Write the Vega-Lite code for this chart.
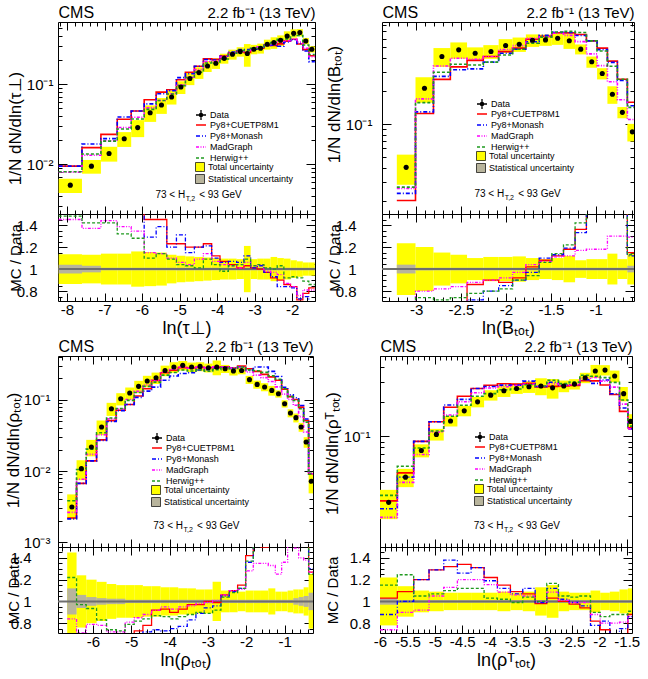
{
"$schema": "https://vega.github.io/schema/vega-lite/v6.json",
"padding": {"left": 3, "top": 4, "right": 4, "bottom": 2},
"config": {
  "font": "Liberation Sans",
  "view": {"stroke": "black", "strokeWidth": 1},
  "axis": {"grid": false, "domain": false, "tickColor": "black", "tickWidth": 1, "labelColor": "black", "titleColor": "black", "labelFontSize": 15, "titleFontSize": 17, "titleFontWeight": "normal", "labelFlush": false, "labelOverlap": false, "zindex": 1},
  "legend": {"labelFont": "Liberation Sans", "labelFontSize": 9, "labelColor": "black", "labelOffset": 3, "rowPadding": 0, "padding": 0, "symbolSize": 100, "orient": "none"}
},
"datasets": {
"m1": [
{"lo":-8.222,"hi":-7.601,"c":-7.912,"d":0.0055,"dlo":0.00439,"dhi":0.00661,"P":0.0095,"M":0.0095,"G":0.008,"H":0.0081},
{"lo":-7.601,"hi":-7.096,"c":-7.349,"d":0.0095,"dlo":0.00765,"dhi":0.01135,"P":0.0162,"M":0.018,"G":0.013,"H":0.0135},
{"lo":-7.096,"hi":-6.661,"c":-6.879,"d":0.0137,"dlo":0.01082,"dhi":0.01658,"P":0.0237,"M":0.021,"G":0.0197,"H":0.0195},
{"lo":-6.661,"hi":-6.289,"c":-6.475,"d":0.0209,"dlo":0.01651,"dhi":0.02529,"P":0.0366,"M":0.0391,"G":0.0289,"H":0.0276},
{"lo":-6.289,"hi":-5.943,"c":-6.116,"d":0.0288,"dlo":0.02189,"dhi":0.03571,"P":0.0464,"M":0.0464,"G":0.0387,"H":0.0369},
{"lo":-5.943,"hi":-5.624,"c":-5.784,"d":0.0442,"dlo":0.03392,"dhi":0.05448,"P":0.0641,"M":0.057,"G":0.0508,"H":0.0486},
{"lo":-5.624,"hi":-5.34,"c":-5.482,"d":0.0551,"dlo":0.0427,"dhi":0.0675,"P":0.0799,"M":0.0763,"G":0.0628,"H":0.0628},
{"lo":-5.34,"hi":-5.083,"c":-5.212,"d":0.0694,"dlo":0.05587,"dhi":0.08293,"P":0.0854,"M":0.0833,"G":0.0763,"H":0.0756},
{"lo":-5.083,"hi":-4.844,"c":-4.964,"d":0.0926,"dlo":0.07593,"dhi":0.10927,"P":0.1139,"M":0.1213,"G":0.0982,"H":0.0963},
{"lo":-4.844,"hi":-4.605,"c":-4.725,"d":0.118,"dlo":0.09765,"dhi":0.13836,"P":0.1416,"M":0.1357,"G":0.1227,"H":0.1215},
{"lo":-4.605,"hi":-4.365,"c":-4.485,"d":0.14,"dlo":0.1169,"dhi":0.1631,"P":0.168,"M":0.168,"G":0.1526,"H":0.1414},
{"lo":-4.365,"hi":-4.144,"c":-4.255,"d":0.169,"dlo":0.14238,"dhi":0.19562,"P":0.2079,"M":0.2045,"G":0.1927,"H":0.1842},
{"lo":-4.144,"hi":-3.922,"c":-4.033,"d":0.183,"dlo":0.15555,"dhi":0.21045,"P":0.205,"M":0.2013,"G":0.1958,"H":0.1903},
{"lo":-3.922,"hi":-3.7,"c":-3.811,"d":0.211,"dlo":0.18093,"dhi":0.24107,"P":0.2258,"M":0.2237,"G":0.2194,"H":0.2068},
{"lo":-3.7,"hi":-3.479,"c":-3.59,"d":0.237,"dlo":0.20323,"dhi":0.27077,"P":0.2465,"M":0.2536,"G":0.2441,"H":0.2441},
{"lo":-3.479,"hi":-3.284,"c":-3.382,"d":0.256,"dlo":0.22144,"dhi":0.29056,"P":0.2586,"M":0.2714,"G":0.2586,"H":0.2662},
{"lo":-3.284,"hi":-3.106,"c":-3.195,"d":0.242,"dlo":0.16577,"dhi":0.31823,"P":0.2493,"M":0.271,"G":0.2565,"H":0.2638},
{"lo":-3.106,"hi":-2.929,"c":-3.018,"d":0.274,"dlo":0.23701,"dhi":0.31099,"P":0.2767,"M":0.2767,"G":0.2822,"H":0.2822},
{"lo":-2.929,"hi":-2.752,"c":-2.841,"d":0.282,"dlo":0.24182,"dhi":0.32219,"P":0.282,"M":0.2905,"G":0.2933,"H":0.2933},
{"lo":-2.752,"hi":-2.574,"c":-2.663,"d":0.316,"dlo":0.27097,"dhi":0.36103,"P":0.3065,"M":0.3065,"G":0.3097,"H":0.3192},
{"lo":-2.574,"hi":-2.397,"c":-2.486,"d":0.332,"dlo":0.27722,"dhi":0.38678,"P":0.3054,"M":0.3088,"G":0.322,"H":0.332},
{"lo":-2.397,"hi":-2.22,"c":-2.309,"d":0.355,"dlo":0.30175,"dhi":0.40825,"P":0.3195,"M":0.2982,"G":0.3373,"H":0.3657},
{"lo":-2.22,"hi":-2.043,"c":-2.132,"d":0.402,"dlo":0.34472,"dhi":0.45929,"P":0.3457,"M":0.3377,"G":0.3497,"H":0.3698},
{"lo":-2.043,"hi":-1.874,"c":-1.959,"d":0.434,"dlo":0.38192,"dhi":0.48608,"P":0.3646,"M":0.3602,"G":0.3646,"H":0.4036},
{"lo":-1.874,"hi":-1.714,"c":-1.794,"d":0.443,"dlo":0.39649,"dhi":0.48952,"P":0.319,"M":0.3234,"G":0.3367,"H":0.4076},
{"lo":-1.714,"hi":-1.555,"c":-1.635,"d":0.348,"dlo":0.31668,"dhi":0.37932,"P":0.2714,"M":0.261,"G":0.2819,"H":0.3097},
{"lo":-1.555,"hi":-1.395,"c":-1.475,"d":0.274,"dlo":0.24934,"dhi":0.29866,"P":0.2274,"M":0.1918,"G":0.2219,"H":0.2356},
{"lo":-1.395,"P":0.2274,"M":0.1918,"G":0.2219,"H":0.2356}
],
"r1": [
{"lo":-8.222,"hi":-7.601,"tlo":0.865,"thi":1.135,"slo":0.96,"shi":1.04,"P":1.73,"M":1.73,"G":1.45,"H":1.48},
{"lo":-7.601,"hi":-7.096,"tlo":0.87,"thi":1.13,"slo":0.97,"shi":1.03,"P":1.7,"M":1.9,"G":1.37,"H":1.42},
{"lo":-7.096,"hi":-6.661,"tlo":0.86,"thi":1.14,"slo":0.988,"shi":1.012,"P":1.73,"M":1.53,"G":1.44,"H":1.42},
{"lo":-6.661,"hi":-6.289,"tlo":0.86,"thi":1.14,"slo":0.988,"shi":1.012,"P":1.75,"M":1.87,"G":1.385,"H":1.32},
{"lo":-6.289,"hi":-5.943,"tlo":0.84,"thi":1.16,"slo":0.988,"shi":1.012,"P":1.61,"M":1.61,"G":1.345,"H":1.28},
{"lo":-5.943,"hi":-5.624,"tlo":0.845,"thi":1.155,"slo":0.988,"shi":1.012,"P":1.45,"M":1.29,"G":1.15,"H":1.1},
{"lo":-5.624,"hi":-5.34,"tlo":0.85,"thi":1.15,"slo":0.988,"shi":1.012,"P":1.45,"M":1.385,"G":1.14,"H":1.14},
{"lo":-5.34,"hi":-5.083,"tlo":0.87,"thi":1.13,"slo":0.988,"shi":1.012,"P":1.23,"M":1.2,"G":1.1,"H":1.09},
{"lo":-5.083,"hi":-4.844,"tlo":0.88,"thi":1.12,"slo":0.988,"shi":1.012,"P":1.23,"M":1.31,"G":1.06,"H":1.04},
{"lo":-4.844,"hi":-4.605,"tlo":0.885,"thi":1.115,"slo":0.988,"shi":1.012,"P":1.2,"M":1.15,"G":1.04,"H":1.03},
{"lo":-4.605,"hi":-4.365,"tlo":0.89,"thi":1.11,"slo":0.988,"shi":1.012,"P":1.2,"M":1.2,"G":1.09,"H":1.01},
{"lo":-4.365,"hi":-4.144,"tlo":0.895,"thi":1.105,"slo":0.988,"shi":1.012,"P":1.23,"M":1.21,"G":1.14,"H":1.09},
{"lo":-4.144,"hi":-3.922,"tlo":0.9,"thi":1.1,"slo":0.988,"shi":1.012,"P":1.12,"M":1.1,"G":1.07,"H":1.04},
{"lo":-3.922,"hi":-3.7,"tlo":0.905,"thi":1.095,"slo":0.988,"shi":1.012,"P":1.07,"M":1.06,"G":1.04,"H":0.98},
{"lo":-3.7,"hi":-3.479,"tlo":0.905,"thi":1.095,"slo":0.988,"shi":1.012,"P":1.04,"M":1.07,"G":1.03,"H":1.03},
{"lo":-3.479,"hi":-3.284,"tlo":0.91,"thi":1.09,"slo":0.988,"shi":1.012,"P":1.01,"M":1.06,"G":1.01,"H":1.04},
{"lo":-3.284,"hi":-3.106,"tlo":0.79,"thi":1.21,"slo":0.988,"shi":1.012,"P":1.03,"M":1.12,"G":1.06,"H":1.09},
{"lo":-3.106,"hi":-2.929,"tlo":0.91,"thi":1.09,"slo":0.988,"shi":1.012,"P":1.01,"M":1.01,"G":1.03,"H":1.03},
{"lo":-2.929,"hi":-2.752,"tlo":0.905,"thi":1.095,"slo":0.988,"shi":1.012,"P":1.0,"M":1.03,"G":1.04,"H":1.04},
{"lo":-2.752,"hi":-2.574,"tlo":0.905,"thi":1.095,"slo":0.988,"shi":1.012,"P":0.97,"M":0.97,"G":0.98,"H":1.01},
{"lo":-2.574,"hi":-2.397,"tlo":0.89,"thi":1.11,"slo":0.988,"shi":1.012,"P":0.92,"M":0.93,"G":0.97,"H":1.0},
{"lo":-2.397,"hi":-2.22,"tlo":0.9,"thi":1.1,"slo":0.988,"shi":1.012,"P":0.9,"M":0.84,"G":0.95,"H":1.03},
{"lo":-2.22,"hi":-2.043,"tlo":0.905,"thi":1.095,"slo":0.988,"shi":1.012,"P":0.86,"M":0.84,"G":0.87,"H":0.92},
{"lo":-2.043,"hi":-1.874,"tlo":0.92,"thi":1.08,"slo":0.988,"shi":1.012,"P":0.84,"M":0.83,"G":0.84,"H":0.93},
{"lo":-1.874,"hi":-1.714,"tlo":0.93,"thi":1.07,"slo":0.988,"shi":1.012,"P":0.72,"M":0.73,"G":0.76,"H":0.92},
{"lo":-1.714,"hi":-1.555,"tlo":0.94,"thi":1.06,"slo":0.988,"shi":1.012,"P":0.78,"M":0.75,"G":0.81,"H":0.89},
{"lo":-1.555,"hi":-1.395,"tlo":0.94,"thi":1.06,"slo":0.988,"shi":1.012,"P":0.83,"M":0.7,"G":0.81,"H":0.86},
{"lo":-1.395,"P":0.83,"M":0.7,"G":0.81,"H":0.86}
],
"m2": [
{"lo":-3.215,"hi":-3.007,"c":-3.111,"d":0.0404,"dlo":0.02806,"dhi":0.05274,"P":0.0202,"M":0.0234,"G":0.0259,"H":0.0267},
{"lo":-3.007,"hi":-2.807,"c":-2.907,"d":0.212,"dlo":0.15688,"dhi":0.26712,"P":0.1251,"M":0.1293,"G":0.1696,"H":0.1569},
{"lo":-2.807,"hi":-2.619,"c":-2.713,"d":0.412,"dlo":0.33166,"dhi":0.49234,"P":0.2554,"M":0.2719,"G":0.3378,"H":0.2966},
{"lo":-2.619,"hi":-2.433,"c":-2.526,"d":0.474,"dlo":0.39389,"dhi":0.55411,"P":0.3318,"M":0.3128,"G":0.3982,"H":0.3508},
{"lo":-2.433,"hi":-2.252,"c":-2.3425,"d":0.442,"dlo":0.38454,"dhi":0.49946,"P":0.3801,"M":0.3182,"G":0.389,"H":0.3448},
{"lo":-2.252,"hi":-2.081,"c":-2.1665,"d":0.458,"dlo":0.39251,"dhi":0.52349,"P":0.4122,"M":0.3664,"G":0.4122,"H":0.3664},
{"lo":-2.081,"hi":-1.926,"c":-2.0035,"d":0.519,"dlo":0.44478,"dhi":0.59322,"P":0.4567,"M":0.4412,"G":0.4775,"H":0.4256},
{"lo":-1.926,"hi":-1.778,"c":-1.852,"d":0.534,"dlo":0.45417,"dhi":0.61383,"P":0.4913,"M":0.4806,"G":0.518,"H":0.4806},
{"lo":-1.778,"hi":-1.63,"c":-1.704,"d":0.58,"dlo":0.5046,"dhi":0.6554,"P":0.5916,"M":0.5626,"G":0.6032,"H":0.5452},
{"lo":-1.63,"hi":-1.489,"c":-1.5595,"d":0.584,"dlo":0.51567,"dhi":0.65233,"P":0.6307,"M":0.6424,"G":0.6249,"H":0.619},
{"lo":-1.489,"hi":-1.359,"c":-1.424,"d":0.605,"dlo":0.52635,"dhi":0.68365,"P":0.6776,"M":0.6837,"G":0.6716,"H":0.6897},
{"lo":-1.359,"hi":-1.23,"c":-1.2945,"d":0.573,"dlo":0.48361,"dhi":0.66239,"P":0.6761,"M":0.6819,"G":0.6418,"H":0.6991},
{"lo":-1.23,"hi":-1.104,"c":-1.167,"d":0.481,"dlo":0.43098,"dhi":0.53102,"P":0.6542,"M":0.6397,"G":0.5628,"H":0.683},
{"lo":-1.104,"hi":-0.985,"c":-1.0445,"d":0.369,"dlo":0.32583,"dhi":0.41217,"P":0.572,"M":0.572,"G":0.4354,"H":0.572},
{"lo":-0.985,"hi":-0.87,"c":-0.9275,"d":0.289,"dlo":0.25519,"dhi":0.32281,"P":0.4913,"M":0.4769,"G":0.341,"H":0.4624},
{"lo":-0.87,"hi":-0.759,"c":-0.8145,"d":0.187,"dlo":0.15297,"dhi":0.22103,"P":0.374,"M":0.3647,"G":0.2431,"H":0.3366},
{"lo":-0.759,"hi":-0.648,"c":-0.7035,"d":0.128,"dlo":0.11302,"dhi":0.14298,"P":0.256,"M":0.2496,"G":0.1664,"H":0.256},
{"lo":-0.648,"hi":-0.537,"c":-0.5925,"d":0.085,"dlo":0.06953,"dhi":0.10047,"P":0.158,"M":0.147,"G":0.11,"H":0.142},
{"lo":-0.537,"P":0.158,"M":0.147,"G":0.11,"H":0.142}
],
"r2": [
{"lo":-3.215,"hi":-3.007,"tlo":0.765,"thi":1.235,"slo":0.96,"shi":1.04,"P":0.5,"M":0.58,"G":0.64,"H":0.66},
{"lo":-3.007,"hi":-2.807,"tlo":0.8,"thi":1.2,"slo":0.988,"shi":1.012,"P":0.59,"M":0.61,"G":0.8,"H":0.74},
{"lo":-2.807,"hi":-2.619,"tlo":0.85,"thi":1.15,"slo":0.988,"shi":1.012,"P":0.62,"M":0.66,"G":0.82,"H":0.72},
{"lo":-2.619,"hi":-2.433,"tlo":0.87,"thi":1.13,"slo":0.988,"shi":1.012,"P":0.7,"M":0.66,"G":0.84,"H":0.74},
{"lo":-2.433,"hi":-2.252,"tlo":0.9,"thi":1.1,"slo":0.988,"shi":1.012,"P":0.86,"M":0.72,"G":0.88,"H":0.78},
{"lo":-2.252,"hi":-2.081,"tlo":0.89,"thi":1.11,"slo":0.988,"shi":1.012,"P":0.9,"M":0.8,"G":0.9,"H":0.8},
{"lo":-2.081,"hi":-1.926,"tlo":0.89,"thi":1.11,"slo":0.988,"shi":1.012,"P":0.88,"M":0.85,"G":0.92,"H":0.82},
{"lo":-1.926,"hi":-1.778,"tlo":0.885,"thi":1.115,"slo":0.988,"shi":1.012,"P":0.92,"M":0.9,"G":0.97,"H":0.9},
{"lo":-1.778,"hi":-1.63,"tlo":0.9,"thi":1.1,"slo":0.988,"shi":1.012,"P":1.02,"M":0.97,"G":1.04,"H":0.94},
{"lo":-1.63,"hi":-1.489,"tlo":0.91,"thi":1.09,"slo":0.988,"shi":1.012,"P":1.08,"M":1.1,"G":1.07,"H":1.06},
{"lo":-1.489,"hi":-1.359,"tlo":0.9,"thi":1.1,"slo":0.988,"shi":1.012,"P":1.12,"M":1.13,"G":1.11,"H":1.14},
{"lo":-1.359,"hi":-1.23,"tlo":0.88,"thi":1.12,"slo":0.988,"shi":1.012,"P":1.18,"M":1.19,"G":1.12,"H":1.22},
{"lo":-1.23,"hi":-1.104,"tlo":0.92,"thi":1.08,"slo":0.988,"shi":1.012,"P":1.36,"M":1.33,"G":1.17,"H":1.42},
{"lo":-1.104,"hi":-0.985,"tlo":0.91,"thi":1.09,"slo":0.988,"shi":1.012,"P":1.55,"M":1.55,"G":1.18,"H":1.55},
{"lo":-0.985,"hi":-0.87,"tlo":0.91,"thi":1.09,"slo":0.988,"shi":1.012,"P":1.7,"M":1.65,"G":1.18,"H":1.6},
{"lo":-0.87,"hi":-0.759,"tlo":0.86,"thi":1.14,"slo":0.988,"shi":1.012,"P":2.0,"M":1.95,"G":1.3,"H":1.8},
{"lo":-0.759,"hi":-0.648,"tlo":0.91,"thi":1.09,"slo":0.988,"shi":1.012,"P":2.0,"M":1.95,"G":1.3,"H":2.0},
{"lo":-0.648,"hi":-0.537,"tlo":0.86,"thi":1.14,"slo":0.97,"shi":1.03,"P":1.15,"M":1.12,"G":1.29,"H":1.13},
{"lo":-0.537,"P":1.15,"M":1.12,"G":1.29,"H":1.13}
],
"m3": [
{"lo":-6.67,"hi":-6.426,"c":-6.548,"d":0.00313,"dlo":0.0021,"dhi":0.0047,"P":0.00219,"M":0.00213,"G":0.00263,"H":0.00382},
{"lo":-6.426,"hi":-6.174,"c":-6.3,"d":0.0108,"dlo":0.00743,"dhi":0.01417,"P":0.0067,"M":0.0067,"G":0.00767,"H":0.01048},
{"lo":-6.174,"hi":-5.904,"c":-6.039,"d":0.0217,"dlo":0.01606,"dhi":0.02734,"P":0.01389,"M":0.01389,"G":0.01714,"H":0.02029},
{"lo":-5.904,"hi":-5.643,"c":-5.774,"d":0.0414,"dlo":0.03171,"dhi":0.05109,"P":0.02732,"M":0.02691,"G":0.03229,"H":0.03436},
{"lo":-5.643,"hi":-5.391,"c":-5.517,"d":0.0748,"dlo":0.05924,"dhi":0.09036,"P":0.05086,"M":0.04937,"G":0.05386,"H":0.05535},
{"lo":-5.391,"hi":-5.157,"c":-5.274,"d":0.1033,"dlo":0.08316,"dhi":0.12344,"P":0.07128,"M":0.07024,"G":0.07438,"H":0.07541},
{"lo":-5.157,"hi":-4.922,"c":-5.04,"d":0.124,"dlo":0.09982,"dhi":0.14818,"P":0.08556,"M":0.08556,"G":0.10044,"H":0.09796},
{"lo":-4.922,"hi":-4.696,"c":-4.809,"d":0.154,"dlo":0.12397,"dhi":0.18403,"P":0.11242,"M":0.1078,"G":0.1309,"H":0.12628},
{"lo":-4.696,"hi":-4.47,"c":-4.583,"d":0.183,"dlo":0.14969,"dhi":0.21631,"P":0.14274,"M":0.13176,"G":0.16104,"H":0.15372},
{"lo":-4.47,"hi":-4.235,"c":-4.353,"d":0.203,"dlo":0.16605,"dhi":0.23995,"P":0.18676,"M":0.15022,"G":0.18676,"H":0.17661},
{"lo":-4.235,"hi":-4.0,"c":-4.118,"d":0.257,"dlo":0.21357,"dhi":0.30043,"P":0.23901,"M":0.18761,"G":0.24415,"H":0.22102},
{"lo":-4.0,"hi":-3.774,"c":-3.887,"d":0.287,"dlo":0.2385,"dhi":0.3355,"P":0.2583,"M":0.21525,"G":0.26691,"H":0.24108},
{"lo":-3.774,"hi":-3.539,"c":-3.657,"d":0.303,"dlo":0.25573,"dhi":0.35027,"P":0.28179,"M":0.23331,"G":0.28785,"H":0.26058},
{"lo":-3.539,"hi":-3.313,"c":-3.426,"d":0.287,"dlo":0.24223,"dhi":0.33177,"P":0.27839,"M":0.23821,"G":0.27552,"H":0.25256},
{"lo":-3.313,"hi":-3.096,"c":-3.205,"d":0.293,"dlo":0.2511,"dhi":0.3349,"P":0.28421,"M":0.26077,"G":0.28714,"H":0.2637},
{"lo":-3.096,"hi":-2.878,"c":-2.987,"d":0.281,"dlo":0.24082,"dhi":0.32118,"P":0.281,"M":0.26414,"G":0.27819,"H":0.25009},
{"lo":-2.878,"hi":-2.661,"c":-2.77,"d":0.287,"dlo":0.21984,"dhi":0.35416,"P":0.28413,"M":0.27552,"G":0.28987,"H":0.26404},
{"lo":-2.661,"hi":-2.443,"c":-2.552,"d":0.272,"dlo":0.23664,"dhi":0.30736,"P":0.28832,"M":0.2856,"G":0.28832,"H":0.28288},
{"lo":-2.443,"hi":-2.226,"c":-2.335,"d":0.252,"dlo":0.21924,"dhi":0.28476,"P":0.2772,"M":0.27468,"G":0.2772,"H":0.27216},
{"lo":-2.226,"hi":-2.017,"c":-2.122,"d":0.257,"dlo":0.22693,"dhi":0.28707,"P":0.29555,"M":0.28784,"G":0.28527,"H":0.28784},
{"lo":-2.017,"hi":-1.817,"c":-1.917,"d":0.191,"dlo":0.16617,"dhi":0.21583,"P":0.27122,"M":0.25976,"G":0.24448,"H":0.26167},
{"lo":-1.817,"hi":-1.617,"c":-1.717,"d":0.164,"dlo":0.14268,"dhi":0.18532,"P":0.2493,"M":0.287,"G":0.2214,"H":0.2542},
{"lo":-1.617,"hi":-1.426,"c":-1.522,"d":0.151,"dlo":0.13137,"dhi":0.17063,"P":0.2265,"M":0.2869,"G":0.20385,"H":0.2416},
{"lo":-1.426,"hi":-1.243,"c":-1.335,"d":0.135,"dlo":0.11394,"dhi":0.15606,"P":0.20925,"M":0.24975,"G":0.17955,"H":0.216},
{"lo":-1.243,"hi":-1.078,"c":-1.161,"d":0.121,"dlo":0.10684,"dhi":0.13516,"P":0.18755,"M":0.21175,"G":0.15125,"H":0.1936},
{"lo":-1.078,"hi":-0.922,"c":-1.0,"d":0.0879,"dlo":0.07762,"dhi":0.09818,"P":0.14064,"M":0.14943,"G":0.11954,"H":0.1424},
{"lo":-0.922,"hi":-0.774,"c":-0.848,"d":0.065,"dlo":0.05655,"dhi":0.07345,"P":0.1105,"M":0.117,"G":0.10075,"H":0.1105},
{"lo":-0.774,"hi":-0.635,"c":-0.705,"d":0.056,"dlo":0.04799,"dhi":0.06401,"P":0.1008,"M":0.1064,"G":0.08344,"H":0.098},
{"lo":-0.635,"hi":-0.504,"c":-0.57,"d":0.0414,"dlo":0.03548,"dhi":0.04732,"P":0.07866,"M":0.0828,"G":0.05796,"H":0.07452},
{"lo":-0.504,"hi":-0.374,"c":-0.439,"d":0.0255,"dlo":0.02119,"dhi":0.02981,"P":0.051,"M":0.05355,"G":0.03519,"H":0.04845},
{"lo":-0.374,"hi":-0.235,"c":-0.305,"d":0.0072,"dlo":0.00486,"dhi":0.00954,"P":0.00914,"M":0.00936,"G":0.00914,"H":0.009},
{"lo":-0.235,"P":0.00914,"M":0.00936,"G":0.00914,"H":0.009}
],
"r3": [
{"lo":-6.67,"hi":-6.426,"tlo":0.55,"thi":1.45,"slo":0.88,"shi":1.12,"P":0.7,"M":0.68,"G":0.84,"H":1.22},
{"lo":-6.426,"hi":-6.174,"tlo":0.76,"thi":1.24,"slo":0.94,"shi":1.06,"P":0.62,"M":0.62,"G":0.71,"H":0.97},
{"lo":-6.174,"hi":-5.904,"tlo":0.8,"thi":1.2,"slo":0.96,"shi":1.04,"P":0.64,"M":0.64,"G":0.79,"H":0.935},
{"lo":-5.904,"hi":-5.643,"tlo":0.82,"thi":1.18,"slo":0.97,"shi":1.03,"P":0.66,"M":0.65,"G":0.78,"H":0.83},
{"lo":-5.643,"hi":-5.391,"tlo":0.84,"thi":1.16,"slo":0.975,"shi":1.025,"P":0.68,"M":0.66,"G":0.72,"H":0.74},
{"lo":-5.391,"hi":-5.157,"tlo":0.85,"thi":1.15,"slo":0.975,"shi":1.025,"P":0.69,"M":0.68,"G":0.72,"H":0.73},
{"lo":-5.157,"hi":-4.922,"tlo":0.85,"thi":1.15,"slo":0.985,"shi":1.015,"P":0.69,"M":0.69,"G":0.81,"H":0.79},
{"lo":-4.922,"hi":-4.696,"tlo":0.85,"thi":1.15,"slo":0.985,"shi":1.015,"P":0.73,"M":0.7,"G":0.85,"H":0.82},
{"lo":-4.696,"hi":-4.47,"tlo":0.86,"thi":1.14,"slo":0.985,"shi":1.015,"P":0.78,"M":0.72,"G":0.88,"H":0.84},
{"lo":-4.47,"hi":-4.235,"tlo":0.86,"thi":1.14,"slo":0.985,"shi":1.015,"P":0.92,"M":0.74,"G":0.92,"H":0.87},
{"lo":-4.235,"hi":-4.0,"tlo":0.87,"thi":1.13,"slo":0.985,"shi":1.015,"P":0.93,"M":0.73,"G":0.95,"H":0.86},
{"lo":-4.0,"hi":-3.774,"tlo":0.87,"thi":1.13,"slo":0.985,"shi":1.015,"P":0.9,"M":0.75,"G":0.93,"H":0.84},
{"lo":-3.774,"hi":-3.539,"tlo":0.88,"thi":1.12,"slo":0.985,"shi":1.015,"P":0.93,"M":0.77,"G":0.95,"H":0.86},
{"lo":-3.539,"hi":-3.313,"tlo":0.88,"thi":1.12,"slo":0.985,"shi":1.015,"P":0.97,"M":0.83,"G":0.96,"H":0.88},
{"lo":-3.313,"hi":-3.096,"tlo":0.89,"thi":1.11,"slo":0.985,"shi":1.015,"P":0.97,"M":0.89,"G":0.98,"H":0.9},
{"lo":-3.096,"hi":-2.878,"tlo":0.89,"thi":1.11,"slo":0.985,"shi":1.015,"P":1.0,"M":0.94,"G":0.99,"H":0.89},
{"lo":-2.878,"hi":-2.661,"tlo":0.82,"thi":1.18,"slo":0.985,"shi":1.015,"P":0.99,"M":0.96,"G":1.01,"H":0.92},
{"lo":-2.661,"hi":-2.443,"tlo":0.9,"thi":1.1,"slo":0.985,"shi":1.015,"P":1.06,"M":1.05,"G":1.06,"H":1.04},
{"lo":-2.443,"hi":-2.226,"tlo":0.9,"thi":1.1,"slo":0.985,"shi":1.015,"P":1.1,"M":1.09,"G":1.1,"H":1.08},
{"lo":-2.226,"hi":-2.017,"tlo":0.91,"thi":1.09,"slo":0.985,"shi":1.015,"P":1.15,"M":1.12,"G":1.11,"H":1.12},
{"lo":-2.017,"hi":-1.817,"tlo":0.9,"thi":1.1,"slo":0.985,"shi":1.015,"P":1.42,"M":1.36,"G":1.28,"H":1.37},
{"lo":-1.817,"hi":-1.617,"tlo":0.9,"thi":1.1,"slo":0.985,"shi":1.015,"P":1.52,"M":1.75,"G":1.35,"H":1.55},
{"lo":-1.617,"hi":-1.426,"tlo":0.9,"thi":1.1,"slo":0.985,"shi":1.015,"P":1.5,"M":1.9,"G":1.35,"H":1.6},
{"lo":-1.426,"hi":-1.243,"tlo":0.88,"thi":1.12,"slo":0.985,"shi":1.015,"P":1.55,"M":1.85,"G":1.33,"H":1.6},
{"lo":-1.243,"hi":-1.078,"tlo":0.91,"thi":1.09,"slo":0.985,"shi":1.015,"P":1.55,"M":1.75,"G":1.25,"H":1.6},
{"lo":-1.078,"hi":-0.922,"tlo":0.91,"thi":1.09,"slo":0.985,"shi":1.015,"P":1.6,"M":1.7,"G":1.36,"H":1.62},
{"lo":-0.922,"hi":-0.774,"tlo":0.9,"thi":1.1,"slo":0.985,"shi":1.015,"P":1.7,"M":1.8,"G":1.55,"H":1.7},
{"lo":-0.774,"hi":-0.635,"tlo":0.89,"thi":1.11,"slo":0.97,"shi":1.03,"P":1.8,"M":1.9,"G":1.49,"H":1.75},
{"lo":-0.635,"hi":-0.504,"tlo":0.89,"thi":1.11,"slo":0.96,"shi":1.04,"P":1.9,"M":2.0,"G":1.4,"H":1.8},
{"lo":-0.504,"hi":-0.374,"tlo":0.87,"thi":1.13,"slo":0.95,"shi":1.05,"P":2.0,"M":2.1,"G":1.38,"H":1.9},
{"lo":-0.374,"hi":-0.235,"tlo":0.75,"thi":1.25,"slo":0.92,"shi":1.08,"P":1.27,"M":1.3,"G":1.27,"H":1.25},
{"lo":-0.235,"P":1.27,"M":1.3,"G":1.27,"H":1.25}
],
"m4": [
{"lo":-6.0,"hi":-5.684,"c":-5.842,"d":0.0265,"dlo":0.01892,"dhi":0.03408,"P":0.0273,"M":0.0233,"G":0.0196,"H":0.0305},
{"lo":-5.684,"hi":-5.386,"c":-5.535,"d":0.044,"dlo":0.03599,"dhi":0.05201,"P":0.048,"M":0.044,"G":0.0396,"H":0.0548},
{"lo":-5.386,"hi":-5.106,"c":-5.246,"d":0.0753,"dlo":0.06551,"dhi":0.08509,"P":0.0904,"M":0.0904,"G":0.0693,"H":0.0791},
{"lo":-5.106,"hi":-4.838,"c":-4.972,"d":0.104,"dlo":0.09183,"dhi":0.11617,"P":0.1342,"M":0.1342,"G":0.1092,"H":0.1113},
{"lo":-4.838,"hi":-4.589,"c":-4.714,"d":0.136,"dlo":0.12186,"dhi":0.15014,"P":0.1795,"M":0.1877,"G":0.1537,"H":0.1496},
{"lo":-4.589,"hi":-4.339,"c":-4.464,"d":0.167,"dlo":0.14963,"dhi":0.18437,"P":0.2238,"M":0.2104,"G":0.2004,"H":0.187},
{"lo":-4.339,"hi":-4.102,"c":-4.221,"d":0.2,"dlo":0.1792,"dhi":0.2208,"P":0.262,"M":0.262,"G":0.24,"H":0.224},
{"lo":-4.102,"hi":-3.859,"c":-3.981,"d":0.229,"dlo":0.20518,"dhi":0.25282,"P":0.2794,"M":0.2725,"G":0.2645,"H":0.2359},
{"lo":-3.859,"hi":-3.622,"c":-3.741,"d":0.25,"dlo":0.22075,"dhi":0.27925,"P":0.2875,"M":0.28,"G":0.2713,"H":0.255},
{"lo":-3.622,"hi":-3.397,"c":-3.51,"d":0.262,"dlo":0.23475,"dhi":0.28925,"P":0.2856,"M":0.2803,"G":0.2777,"H":0.2594},
{"lo":-3.397,"hi":-3.171,"c":-3.284,"d":0.271,"dlo":0.23929,"dhi":0.30271,"P":0.29,"M":0.3035,"G":0.2846,"H":0.2818},
{"lo":-3.171,"hi":-2.959,"c":-3.065,"d":0.275,"dlo":0.22853,"dhi":0.32148,"P":0.2695,"M":0.2723,"G":0.275,"H":0.275},
{"lo":-2.959,"hi":-2.746,"c":-2.853,"d":0.265,"dlo":0.21333,"dhi":0.31668,"P":0.273,"M":0.2968,"G":0.2875,"H":0.3087},
{"lo":-2.746,"hi":-2.551,"c":-2.649,"d":0.275,"dlo":0.24283,"dhi":0.30718,"P":0.275,"M":0.2805,"G":0.2778,"H":0.2888},
{"lo":-2.551,"hi":-2.356,"c":-2.454,"d":0.286,"dlo":0.25626,"dhi":0.31574,"P":0.2789,"M":0.2831,"G":0.2831,"H":0.2974},
{"lo":-2.356,"hi":-2.162,"c":-2.259,"d":0.325,"dlo":0.2912,"dhi":0.3588,"P":0.3055,"M":0.312,"G":0.3218,"H":0.3413},
{"lo":-2.162,"hi":-1.985,"c":-2.074,"d":0.372,"dlo":0.32364,"dhi":0.42036,"P":0.305,"M":0.2902,"G":0.3274,"H":0.3348},
{"lo":-1.985,"hi":-1.809,"c":-1.897,"d":0.379,"dlo":0.33958,"dhi":0.41842,"P":0.2805,"M":0.3108,"G":0.3032,"H":0.3259},
{"lo":-1.809,"hi":-1.633,"c":-1.721,"d":0.336,"dlo":0.29669,"dhi":0.37531,"P":0.2318,"M":0.2352,"G":0.2688,"H":0.2957},
{"lo":-1.633,"hi":-1.481,"c":-1.557,"d":0.236,"dlo":0.20225,"dhi":0.26975,"P":0.1652,"M":0.177,"G":0.1912,"H":0.2077},
{"lo":-1.481,"hi":-1.334,"c":-1.43,"d":0.135,"dlo":0.11394,"dhi":0.15606,"P":0.1188,"M":0.1161,"G":0.1161,"H":0.1229},
{"lo":-1.334,"P":0.1188,"M":0.1161,"G":0.1161,"H":0.1229}
],
"r4": [
{"lo":-6.0,"hi":-5.684,"tlo":0.78,"thi":1.22,"slo":0.97,"shi":1.03,"P":1.03,"M":0.88,"G":0.74,"H":1.15},
{"lo":-5.684,"hi":-5.386,"tlo":0.86,"thi":1.14,"slo":0.988,"shi":1.012,"P":1.09,"M":1.0,"G":0.9,"H":1.245},
{"lo":-5.386,"hi":-5.106,"tlo":0.9,"thi":1.1,"slo":0.988,"shi":1.012,"P":1.2,"M":1.2,"G":0.92,"H":1.05},
{"lo":-5.106,"hi":-4.838,"tlo":0.91,"thi":1.09,"slo":0.988,"shi":1.012,"P":1.29,"M":1.29,"G":1.05,"H":1.07},
{"lo":-4.838,"hi":-4.589,"tlo":0.92,"thi":1.08,"slo":0.988,"shi":1.012,"P":1.32,"M":1.38,"G":1.13,"H":1.1},
{"lo":-4.589,"hi":-4.339,"tlo":0.92,"thi":1.08,"slo":0.988,"shi":1.012,"P":1.34,"M":1.26,"G":1.2,"H":1.12},
{"lo":-4.339,"hi":-4.102,"tlo":0.92,"thi":1.08,"slo":0.988,"shi":1.012,"P":1.31,"M":1.31,"G":1.2,"H":1.12},
{"lo":-4.102,"hi":-3.859,"tlo":0.92,"thi":1.08,"slo":0.988,"shi":1.012,"P":1.22,"M":1.19,"G":1.155,"H":1.03},
{"lo":-3.859,"hi":-3.622,"tlo":0.91,"thi":1.09,"slo":0.988,"shi":1.012,"P":1.15,"M":1.12,"G":1.085,"H":1.02},
{"lo":-3.622,"hi":-3.397,"tlo":0.92,"thi":1.08,"slo":0.988,"shi":1.012,"P":1.09,"M":1.07,"G":1.06,"H":0.99},
{"lo":-3.397,"hi":-3.171,"tlo":0.91,"thi":1.09,"slo":0.988,"shi":1.012,"P":1.07,"M":1.12,"G":1.05,"H":1.04},
{"lo":-3.171,"hi":-2.959,"tlo":0.87,"thi":1.13,"slo":0.988,"shi":1.012,"P":0.98,"M":0.99,"G":1.0,"H":1.0},
{"lo":-2.959,"hi":-2.746,"tlo":0.85,"thi":1.15,"slo":0.988,"shi":1.012,"P":1.03,"M":1.12,"G":1.085,"H":1.165},
{"lo":-2.746,"hi":-2.551,"tlo":0.91,"thi":1.09,"slo":0.988,"shi":1.012,"P":1.0,"M":1.02,"G":1.01,"H":1.05},
{"lo":-2.551,"hi":-2.356,"tlo":0.92,"thi":1.08,"slo":0.988,"shi":1.012,"P":0.975,"M":0.99,"G":0.99,"H":1.04},
{"lo":-2.356,"hi":-2.162,"tlo":0.92,"thi":1.08,"slo":0.988,"shi":1.012,"P":0.94,"M":0.96,"G":0.99,"H":1.05},
{"lo":-2.162,"hi":-1.985,"tlo":0.9,"thi":1.1,"slo":0.988,"shi":1.012,"P":0.82,"M":0.78,"G":0.88,"H":0.9},
{"lo":-1.985,"hi":-1.809,"tlo":0.92,"thi":1.08,"slo":0.988,"shi":1.012,"P":0.74,"M":0.82,"G":0.8,"H":0.86},
{"lo":-1.809,"hi":-1.633,"tlo":0.91,"thi":1.09,"slo":0.988,"shi":1.012,"P":0.69,"M":0.7,"G":0.8,"H":0.88},
{"lo":-1.633,"hi":-1.481,"tlo":0.89,"thi":1.11,"slo":0.988,"shi":1.012,"P":0.7,"M":0.75,"G":0.81,"H":0.88},
{"lo":-1.481,"hi":-1.334,"tlo":0.88,"thi":1.12,"slo":0.988,"shi":1.012,"P":0.88,"M":0.86,"G":0.86,"H":0.91},
{"lo":-1.334,"P":0.88,"M":0.86,"G":0.86,"H":0.91}
]
},
"spacing": 0,
"resolve": {"scale": {"color": "independent", "strokeDash": "independent", "fill": "independent", "shape": "independent"}, "legend": {"color": "independent", "strokeDash": "independent", "fill": "independent", "shape": "independent"}},
"vconcat": [
{"hconcat": [
 {"vconcat": [
  {"width": 257, "height": 192,
   "resolve": {"axis": {"x": "independent", "y": "independent"}},
   "layer": [
    {"data": {"name": "m1"}, "mark": {"type": "rect", "clip": true},
     "encoding": {
      "x": {"field": "lo", "type": "quantitative", "scale": {"domain": [-8.24, -1.39], "nice": false, "zero": false}, "axis": {"orient": "bottom", "values": [-8,-7,-6,-5,-4,-3,-2], "labels": false, "tickSize": -8, "title": null}},
      "x2": {"field": "hi"},
      "y": {"field": "dlo", "type": "quantitative", "scale": {"type": "log", "domain": [0.0024, 0.6], "nice": false}, "axis": {"orient": "left", "values": [0.01, 0.1], "tickSize": -9, "labelPadding": 14, "labelExpr": "datum.value < 0.005 ? '10⁻³' : datum.value < 0.05 ? '10⁻²' : '10⁻¹'", "title": "1/N dN/dln(τ⊥)", "titleX": -43, "titleY": 106, "titleBaseline": "middle"}},
      "y2": {"field": "dhi"},
      "fill": {"datum": "T", "type": "nominal", "scale": {"domain": ["T","S"], "range": ["#ffff00","#b8b49c"]},
       "legend": {"title": null, "legendX": 137, "legendY": 140, "padding": 0, "rowPadding": 0, "symbolSize": 81, "symbolType": "square", "symbolStrokeColor": "black", "symbolStrokeWidth": 0.7, "labelExpr": "datum.label == 'T' ? 'Total uncertainty' : 'Statistical uncertainty'"}}}},
    {"data": {"name": "m1"}, "transform": [{"fold": ["P","M","G","H"], "as": ["k","v"]}],
     "mark": {"type": "line", "interpolate": "step-after", "clip": true, "strokeWidth": 1.6},
     "encoding": {
      "x": {"field": "lo", "type": "quantitative", "axis": {"orient": "bottom", "values": [-8.2,-7.8,-7.6,-7.4,-7.2,-6.8,-6.6,-6.4,-6.2,-5.8,-5.6,-5.4,-5.2,-4.8,-4.6,-4.4,-4.2,-3.8,-3.6,-3.4,-3.2,-2.8,-2.6,-2.4,-2.2,-1.8,-1.6,-1.4], "labels": false, "tickSize": -4, "title": null}},
      "y": {"field": "v", "type": "quantitative", "axis": {"orient": "left", "values": [0.003,0.004,0.005,0.006,0.007,0.008,0.009,0.02,0.03,0.04,0.05,0.06,0.07,0.08,0.09,0.2,0.3,0.4,0.5], "labels": false, "tickSize": -4, "title": null}},
      "color": {"field": "k", "type": "nominal", "scale": {"domain": ["P","M","G","H"], "range": ["#ff0000","#0000ff","#ff00ff","#1f9a1f"]},
       "legend": {"title": null, "legendX": 137, "legendY": 97, "padding": 0, "rowPadding": 0, "symbolSize": 100, "symbolStrokeWidth": 1.5, "labelExpr": "datum.label == 'P' ? 'Py8+CUETP8M1' : datum.label == 'M' ? 'Py8+Monash' : datum.label == 'G' ? 'MadGraph' : 'Herwig++'"}},
      "strokeDash": {"field": "k", "type": "nominal", "scale": {"domain": ["P","M","G","H"], "range": [[1,0],[4,2,1,2],[3,1.5,1,1.5,1,1.5],[3,2]]},
       "legend": {"title": null, "legendX": 137, "legendY": 97, "padding": 0, "rowPadding": 0, "symbolSize": 100, "symbolStrokeWidth": 1.5, "labelExpr": "datum.label == 'P' ? 'Py8+CUETP8M1' : datum.label == 'M' ? 'Py8+Monash' : datum.label == 'G' ? 'MadGraph' : 'Herwig++'"}}}},
    {"data": {"name": "m1"}, "mark": {"type": "circle", "size": 26, "color": "black", "opacity": 1, "clip": true},
     "encoding": {
      "x": {"field": "c", "type": "quantitative", "axis": {"orient": "top", "values": [-8,-7,-6,-5,-4,-3,-2], "labels": false, "tickSize": -8, "title": "CMS", "titleAnchor": "start", "titleAlign": "left", "titleBaseline": "alphabetic", "titlePadding": 4, "titleFontSize": 16}},
      "y": {"field": "d", "type": "quantitative", "axis": {"orient": "right", "values": [0.01, 0.1], "labels": false, "tickSize": -9, "title": null}}}},
    {"data": {"values": [{}]}, "mark": {"type": "point", "size": 0, "filled": false, "color": "black", "strokeWidth": 1.3, "opacity": 1},
     "encoding": {
      "x": {"datum": -4.85, "type": "quantitative", "axis": null},
      "y": {"datum": 0.0038, "type": "quantitative", "axis": null},
      "shape": {"datum": "Data", "type": "nominal", "scale": {"domain": ["Data"], "range": ["M-1,0H1M0,-1V1M0.32,0A0.32,0.32,0,1,1,-0.32,0A0.32,0.32,0,1,1,0.32,0M0.12,0A0.12,0.12,0,1,1,-0.12,0A0.12,0.12,0,1,1,0.12,0"]},
       "legend": {"title": null, "legendX": 137, "legendY": 87, "padding": 0, "rowPadding": 0, "symbolSize": 100, "symbolStrokeColor": "black", "symbolStrokeWidth": 1.3, "symbolOpacity": 1}}}},
    {"data": {"values": [{}]}, "mark": {"type": "text", "align": "right", "baseline": "alphabetic", "fontSize": 10},
     "encoding": {
      "x": {"datum": -4.85, "type": "quantitative", "axis": {"orient": "top", "values": [-8.2,-7.8,-7.6,-7.4,-7.2,-6.8,-6.6,-6.4,-6.2,-5.8,-5.6,-5.4,-5.2,-4.8,-4.6,-4.4,-4.2,-3.8,-3.6,-3.4,-3.2,-2.8,-2.6,-2.4,-2.2,-1.8,-1.6,-1.4], "labels": false, "tickSize": -4, "title": "2.2 fb⁻¹ (13 TeV)", "titleAnchor": "end", "titleAlign": "right", "titleBaseline": "alphabetic", "titlePadding": 4, "titleFontSize": 15}},
      "y": {"datum": 0.0038, "type": "quantitative", "axis": {"orient": "right", "values": [0.003,0.004,0.005,0.006,0.007,0.008,0.009,0.02,0.03,0.04,0.05,0.06,0.07,0.08,0.09,0.2,0.3,0.4,0.5], "labels": false, "tickSize": -4, "title": null}},
      "text": {"value": "73 < H"}}},
    {"data": {"values": [{}]}, "mark": {"type": "text", "align": "left", "baseline": "alphabetic", "fontSize": 7, "dx": 0.5, "dy": 3},
     "encoding": {"x": {"datum": -4.85, "type": "quantitative", "axis": null}, "y": {"datum": 0.0038, "type": "quantitative", "axis": null}, "text": {"value": "T,2"}}},
    {"data": {"values": [{}]}, "mark": {"type": "text", "align": "left", "baseline": "alphabetic", "fontSize": 10, "dx": 14},
     "encoding": {"x": {"datum": -4.85, "type": "quantitative", "axis": null}, "y": {"datum": 0.0038, "type": "quantitative", "axis": null}, "text": {"value": "< 93  GeV"}}}
   ]},
  {"width": 257, "height": 87,
   "resolve": {"axis": {"x": "independent", "y": "independent"}},
   "layer": [
    {"data": {"name": "r1"}, "mark": {"type": "rect", "fill": "#ffff00", "clip": true},
     "encoding": {
      "x": {"field": "lo", "type": "quantitative", "scale": {"domain": [-8.24, -1.39], "nice": false, "zero": false}, "axis": {"orient": "bottom", "values": [-8,-7,-6,-5,-4,-3,-2], "tickSize": -8, "labelPadding": 9, "labelExpr": "replace(format(datum.value, '.1~f'), '−', '-')", "title": "ln(τ⊥)", "titleFontSize": 18, "titlePadding": 2}},
      "x2": {"field": "hi"},
      "y": {"field": "tlo", "type": "quantitative", "scale": {"domain": [0.71, 1.5], "nice": false, "zero": false}, "axis": {"orient": "left", "values": [0.8, 1, 1.2, 1.4], "tickSize": -9, "labelPadding": 30, "labelExpr": "format(datum.value, '.1~f')", "title": "MC / Data", "titleX": -43, "titleBaseline": "middle", "titleFontSize": 15}},
      "y2": {"field": "thi"}}},
    {"data": {"name": "r1"}, "mark": {"type": "rect", "fill": "#b8b49c", "clip": true},
     "encoding": {
      "x": {"field": "lo", "type": "quantitative", "axis": {"orient": "bottom", "values": [-8.2,-7.8,-7.6,-7.4,-7.2,-6.8,-6.6,-6.4,-6.2,-5.8,-5.6,-5.4,-5.2,-4.8,-4.6,-4.4,-4.2,-3.8,-3.6,-3.4,-3.2,-2.8,-2.6,-2.4,-2.2,-1.8,-1.6,-1.4], "labels": false, "tickSize": -4, "title": null}},
      "x2": {"field": "hi"},
      "y": {"field": "slo", "type": "quantitative", "axis": {"orient": "left", "values": [0.75,0.85,0.9,0.95,1.05,1.1,1.15,1.25,1.3,1.35,1.45], "labels": false, "tickSize": -4, "title": null}},
      "y2": {"field": "shi"}}},
    {"data": {"values": [{}]}, "mark": {"type": "rule", "color": "#6e6e6e", "strokeWidth": 2},
     "encoding": {"y": {"datum": 1, "type": "quantitative", "axis": null}}},
    {"data": {"name": "r1"}, "transform": [{"fold": ["P","M","G","H"], "as": ["k","v"]}],
     "mark": {"type": "line", "interpolate": "step-after", "clip": true, "strokeWidth": 1.3},
     "encoding": {
      "x": {"field": "lo", "type": "quantitative", "axis": {"orient": "top", "values": [-8,-7,-6,-5,-4,-3,-2], "labels": false, "tickSize": -8, "title": null}},
      "y": {"field": "v", "type": "quantitative", "axis": {"orient": "right", "values": [0.8, 1, 1.2, 1.4], "labels": false, "tickSize": -9, "title": null}},
      "color": {"field": "k", "type": "nominal", "scale": {"domain": ["P","M","G","H"], "range": ["#ff0000","#0000ff","#ff00ff","#1f9a1f"]}, "legend": null},
      "strokeDash": {"field": "k", "type": "nominal", "scale": {"domain": ["P","M","G","H"], "range": [[1,0],[4,2,1,2],[3,1.5,1,1.5,1,1.5],[3,2]]}, "legend": null}}},
    {"data": {"values": [{}]}, "mark": {"type": "text", "text": ""},
     "encoding": {
      "x": {"datum": -5, "type": "quantitative", "axis": {"orient": "top", "values": [-8.2,-7.8,-7.6,-7.4,-7.2,-6.8,-6.6,-6.4,-6.2,-5.8,-5.6,-5.4,-5.2,-4.8,-4.6,-4.4,-4.2,-3.8,-3.6,-3.4,-3.2,-2.8,-2.6,-2.4,-2.2,-1.8,-1.6,-1.4], "labels": false, "tickSize": -4, "title": null}},
      "y": {"datum": 1, "type": "quantitative", "axis": {"orient": "right", "values": [0.75,0.85,0.9,0.95,1.05,1.1,1.15,1.25,1.3,1.35,1.45], "labels": false, "tickSize": -4, "title": null}}}}
   ]}
 ], "spacing": 0, "bounds": "flush", "resolve": {"scale": {"color": "independent", "strokeDash": "independent", "fill": "independent", "shape": "independent"}, "legend": {"color": "independent", "strokeDash": "independent", "fill": "independent", "shape": "independent"}}},
 {"vconcat": [
  {"width": 252, "height": 192,
   "resolve": {"axis": {"x": "independent", "y": "independent"}},
   "layer": [
    {"data": {"name": "m2"}, "mark": {"type": "rect", "clip": true},
     "encoding": {
      "x": {"field": "lo", "type": "quantitative", "scale": {"domain": [-3.38, -0.574], "nice": false, "zero": false}, "axis": {"orient": "bottom", "values": [-3,-2.5,-2,-1.5,-1], "labels": false, "tickSize": -8, "title": null}},
      "x2": {"field": "hi"},
      "y": {"field": "dlo", "type": "quantitative", "scale": {"type": "log", "domain": [0.0152, 0.85], "nice": false}, "axis": {"orient": "left", "values": [0.1], "tickSize": -9, "labelPadding": 19, "labelExpr": "datum.value < 0.005 ? '10⁻³' : datum.value < 0.05 ? '10⁻²' : '10⁻¹'", "title": "1/N dN/dln(Bₜₒₜ)", "titleX": -48, "titleY": 82, "titleBaseline": "middle"}},
      "y2": {"field": "dhi"},
      "fill": {"datum": "T", "type": "nominal", "scale": {"domain": ["T","S"], "range": ["#ffff00","#b8b49c"]},
       "legend": {"title": null, "legendX": 94, "legendY": 129, "padding": 0, "rowPadding": 0, "symbolSize": 81, "symbolType": "square", "symbolStrokeColor": "black", "symbolStrokeWidth": 0.7, "labelExpr": "datum.label == 'T' ? 'Total uncertainty' : 'Statistical uncertainty'"}}}},
    {"data": {"name": "m2"}, "transform": [{"fold": ["P","M","G","H"], "as": ["k","v"]}],
     "mark": {"type": "line", "interpolate": "step-after", "clip": true, "strokeWidth": 1.6},
     "encoding": {
      "x": {"field": "lo", "type": "quantitative", "axis": {"orient": "bottom", "values": [-3.3,-3.2,-3.1,-2.9,-2.8,-2.7,-2.6,-2.4,-2.3,-2.2,-2.1,-1.9,-1.8,-1.7,-1.6,-1.4,-1.3,-1.2,-1.1,-0.9,-0.8,-0.7,-0.6], "labels": false, "tickSize": -4, "title": null}},
      "y": {"field": "v", "type": "quantitative", "axis": {"orient": "left", "values": [0.02,0.03,0.04,0.05,0.06,0.07,0.08,0.09,0.2,0.3,0.4,0.5,0.6,0.7,0.8], "labels": false, "tickSize": -4, "title": null}},
      "color": {"field": "k", "type": "nominal", "scale": {"domain": ["P","M","G","H"], "range": ["#ff0000","#0000ff","#ff00ff","#1f9a1f"]},
       "legend": {"title": null, "legendX": 94, "legendY": 86, "padding": 0, "rowPadding": 0, "symbolSize": 100, "symbolStrokeWidth": 1.5, "labelExpr": "datum.label == 'P' ? 'Py8+CUETP8M1' : datum.label == 'M' ? 'Py8+Monash' : datum.label == 'G' ? 'MadGraph' : 'Herwig++'"}},
      "strokeDash": {"field": "k", "type": "nominal", "scale": {"domain": ["P","M","G","H"], "range": [[1,0],[4,2,1,2],[3,1.5,1,1.5,1,1.5],[3,2]]},
       "legend": {"title": null, "legendX": 94, "legendY": 86, "padding": 0, "rowPadding": 0, "symbolSize": 100, "symbolStrokeWidth": 1.5, "labelExpr": "datum.label == 'P' ? 'Py8+CUETP8M1' : datum.label == 'M' ? 'Py8+Monash' : datum.label == 'G' ? 'MadGraph' : 'Herwig++'"}}}},
    {"data": {"name": "m2"}, "mark": {"type": "circle", "size": 26, "color": "black", "opacity": 1, "clip": true},
     "encoding": {
      "x": {"field": "c", "type": "quantitative", "axis": {"orient": "top", "values": [-3,-2.5,-2,-1.5,-1], "labels": false, "tickSize": -8, "title": "CMS", "titleAnchor": "start", "titleAlign": "left", "titleBaseline": "alphabetic", "titlePadding": 4, "titleFontSize": 16}},
      "y": {"field": "d", "type": "quantitative", "axis": {"orient": "right", "values": [0.1], "labels": false, "tickSize": -9, "title": null}}}},
    {"data": {"values": [{}]}, "mark": {"type": "point", "size": 0, "filled": false, "color": "black", "strokeWidth": 1.3, "opacity": 1},
     "encoding": {
      "x": {"datum": -2.02, "type": "quantitative", "axis": null},
      "y": {"datum": 0.0215, "type": "quantitative", "axis": null},
      "shape": {"datum": "Data", "type": "nominal", "scale": {"domain": ["Data"], "range": ["M-1,0H1M0,-1V1M0.32,0A0.32,0.32,0,1,1,-0.32,0A0.32,0.32,0,1,1,0.32,0M0.12,0A0.12,0.12,0,1,1,-0.12,0A0.12,0.12,0,1,1,0.12,0"]},
       "legend": {"title": null, "legendX": 94, "legendY": 76, "padding": 0, "rowPadding": 0, "symbolSize": 100, "symbolStrokeColor": "black", "symbolStrokeWidth": 1.3, "symbolOpacity": 1}}}},
    {"data": {"values": [{}]}, "mark": {"type": "text", "align": "right", "baseline": "alphabetic", "fontSize": 10},
     "encoding": {
      "x": {"datum": -2.02, "type": "quantitative", "axis": {"orient": "top", "values": [-3.3,-3.2,-3.1,-2.9,-2.8,-2.7,-2.6,-2.4,-2.3,-2.2,-2.1,-1.9,-1.8,-1.7,-1.6,-1.4,-1.3,-1.2,-1.1,-0.9,-0.8,-0.7,-0.6], "labels": false, "tickSize": -4, "title": "2.2 fb⁻¹ (13 TeV)", "titleAnchor": "end", "titleAlign": "right", "titleBaseline": "alphabetic", "titlePadding": 4, "titleFontSize": 15}},
      "y": {"datum": 0.0215, "type": "quantitative", "axis": {"orient": "right", "values": [0.02,0.03,0.04,0.05,0.06,0.07,0.08,0.09,0.2,0.3,0.4,0.5,0.6,0.7,0.8], "labels": false, "tickSize": -4, "title": null}},
      "text": {"value": "73 < H"}}},
    {"data": {"values": [{}]}, "mark": {"type": "text", "align": "left", "baseline": "alphabetic", "fontSize": 7, "dx": 0.5, "dy": 3},
     "encoding": {"x": {"datum": -2.02, "type": "quantitative", "axis": null}, "y": {"datum": 0.0215, "type": "quantitative", "axis": null}, "text": {"value": "T,2"}}},
    {"data": {"values": [{}]}, "mark": {"type": "text", "align": "left", "baseline": "alphabetic", "fontSize": 10, "dx": 14},
     "encoding": {"x": {"datum": -2.02, "type": "quantitative", "axis": null}, "y": {"datum": 0.0215, "type": "quantitative", "axis": null}, "text": {"value": "< 93  GeV"}}}
   ]},
  {"width": 252, "height": 87,
   "resolve": {"axis": {"x": "independent", "y": "independent"}},
   "layer": [
    {"data": {"name": "r2"}, "mark": {"type": "rect", "fill": "#ffff00", "clip": true},
     "encoding": {
      "x": {"field": "lo", "type": "quantitative", "scale": {"domain": [-3.38, -0.574], "nice": false, "zero": false}, "axis": {"orient": "bottom", "values": [-3,-2.5,-2,-1.5,-1], "tickSize": -8, "labelPadding": 9, "labelExpr": "replace(format(datum.value, '.1~f'), '−', '-')", "title": "ln(Bₜₒₜ)", "titleFontSize": 18, "titlePadding": 2}},
      "x2": {"field": "hi"},
      "y": {"field": "tlo", "type": "quantitative", "scale": {"domain": [0.71, 1.5], "nice": false, "zero": false}, "axis": {"orient": "left", "values": [0.8, 1, 1.2, 1.4], "tickSize": -9, "labelPadding": 35, "labelExpr": "format(datum.value, '.1~f')", "title": "MC / Data", "titleX": -48, "titleBaseline": "middle", "titleFontSize": 15}},
      "y2": {"field": "thi"}}},
    {"data": {"name": "r2"}, "mark": {"type": "rect", "fill": "#b8b49c", "clip": true},
     "encoding": {
      "x": {"field": "lo", "type": "quantitative", "axis": {"orient": "bottom", "values": [-3.3,-3.2,-3.1,-2.9,-2.8,-2.7,-2.6,-2.4,-2.3,-2.2,-2.1,-1.9,-1.8,-1.7,-1.6,-1.4,-1.3,-1.2,-1.1,-0.9,-0.8,-0.7,-0.6], "labels": false, "tickSize": -4, "title": null}},
      "x2": {"field": "hi"},
      "y": {"field": "slo", "type": "quantitative", "axis": {"orient": "left", "values": [0.75,0.85,0.9,0.95,1.05,1.1,1.15,1.25,1.3,1.35,1.45], "labels": false, "tickSize": -4, "title": null}},
      "y2": {"field": "shi"}}},
    {"data": {"values": [{}]}, "mark": {"type": "rule", "color": "#6e6e6e", "strokeWidth": 2},
     "encoding": {"y": {"datum": 1, "type": "quantitative", "axis": null}}},
    {"data": {"name": "r2"}, "transform": [{"fold": ["P","M","G","H"], "as": ["k","v"]}],
     "mark": {"type": "line", "interpolate": "step-after", "clip": true, "strokeWidth": 1.3},
     "encoding": {
      "x": {"field": "lo", "type": "quantitative", "axis": {"orient": "top", "values": [-3,-2.5,-2,-1.5,-1], "labels": false, "tickSize": -8, "title": null}},
      "y": {"field": "v", "type": "quantitative", "axis": {"orient": "right", "values": [0.8, 1, 1.2, 1.4], "labels": false, "tickSize": -9, "title": null}},
      "color": {"field": "k", "type": "nominal", "scale": {"domain": ["P","M","G","H"], "range": ["#ff0000","#0000ff","#ff00ff","#1f9a1f"]}, "legend": null},
      "strokeDash": {"field": "k", "type": "nominal", "scale": {"domain": ["P","M","G","H"], "range": [[1,0],[4,2,1,2],[3,1.5,1,1.5,1,1.5],[3,2]]}, "legend": null}}},
    {"data": {"values": [{}]}, "mark": {"type": "text", "text": ""},
     "encoding": {
      "x": {"datum": -2, "type": "quantitative", "axis": {"orient": "top", "values": [-3.3,-3.2,-3.1,-2.9,-2.8,-2.7,-2.6,-2.4,-2.3,-2.2,-2.1,-1.9,-1.8,-1.7,-1.6,-1.4,-1.3,-1.2,-1.1,-0.9,-0.8,-0.7,-0.6], "labels": false, "tickSize": -4, "title": null}},
      "y": {"datum": 1, "type": "quantitative", "axis": {"orient": "right", "values": [0.75,0.85,0.9,0.95,1.05,1.1,1.15,1.25,1.3,1.35,1.45], "labels": false, "tickSize": -4, "title": null}}}}
   ]}
 ], "spacing": 0, "bounds": "flush", "resolve": {"scale": {"color": "independent", "strokeDash": "independent", "fill": "independent", "shape": "independent"}, "legend": {"color": "independent", "strokeDash": "independent", "fill": "independent", "shape": "independent"}}}
], "spacing": 7, "resolve": {"scale": {"color": "independent", "strokeDash": "independent", "fill": "independent", "shape": "independent"}, "legend": {"color": "independent", "strokeDash": "independent", "fill": "independent", "shape": "independent"}}},
{"hconcat": [
 {"vconcat": [
  {"width": 255, "height": 191,
   "resolve": {"axis": {"x": "independent", "y": "independent"}},
   "layer": [
    {"data": {"name": "m3"}, "mark": {"type": "rect", "clip": true},
     "encoding": {
      "x": {"field": "lo", "type": "quantitative", "scale": {"domain": [-6.91, -0.26], "nice": false, "zero": false}, "axis": {"orient": "bottom", "values": [-6,-5,-4,-3,-2,-1], "labels": false, "tickSize": -8, "title": null}},
      "x2": {"field": "hi"},
      "y": {"field": "dlo", "type": "quantitative", "scale": {"type": "log", "domain": [0.00086, 0.41], "nice": false}, "axis": {"orient": "left", "values": [0.001, 0.01, 0.1], "tickSize": -9, "labelPadding": 17, "labelExpr": "datum.value < 0.005 ? '10⁻³' : datum.value < 0.05 ? '10⁻²' : '10⁻¹'", "title": "1/N dN/dln(ρₜₒₜ)", "titleX": -45, "titleY": 94, "titleBaseline": "middle"}},
      "y2": {"field": "dhi"},
      "fill": {"datum": "T", "type": "nominal", "scale": {"domain": ["T","S"], "range": ["#ffff00","#b8b49c"]},
       "legend": {"title": null, "legendX": 93, "legendY": 129, "padding": 0, "rowPadding": 0, "symbolSize": 81, "symbolType": "square", "symbolStrokeColor": "black", "symbolStrokeWidth": 0.7, "labelExpr": "datum.label == 'T' ? 'Total uncertainty' : 'Statistical uncertainty'"}}}},
    {"data": {"name": "m3"}, "transform": [{"fold": ["P","M","G","H"], "as": ["k","v"]}],
     "mark": {"type": "line", "interpolate": "step-after", "clip": true, "strokeWidth": 1.6},
     "encoding": {
      "x": {"field": "lo", "type": "quantitative", "axis": {"orient": "bottom", "values": [-6.8,-6.6,-6.4,-6.2,-5.8,-5.6,-5.4,-5.2,-4.8,-4.6,-4.4,-4.2,-3.8,-3.6,-3.4,-3.2,-2.8,-2.6,-2.4,-2.2,-1.8,-1.6,-1.4,-1.2,-0.8,-0.6,-0.4], "labels": false, "tickSize": -4, "title": null}},
      "y": {"field": "v", "type": "quantitative", "axis": {"orient": "left", "values": [0.002,0.003,0.004,0.005,0.006,0.007,0.008,0.009,0.02,0.03,0.04,0.05,0.06,0.07,0.08,0.09,0.2,0.3,0.4], "labels": false, "tickSize": -4, "title": null}},
      "color": {"field": "k", "type": "nominal", "scale": {"domain": ["P","M","G","H"], "range": ["#ff0000","#0000ff","#ff00ff","#1f9a1f"]},
       "legend": {"title": null, "legendX": 93, "legendY": 86, "padding": 0, "rowPadding": 0, "symbolSize": 100, "symbolStrokeWidth": 1.5, "labelExpr": "datum.label == 'P' ? 'Py8+CUETP8M1' : datum.label == 'M' ? 'Py8+Monash' : datum.label == 'G' ? 'MadGraph' : 'Herwig++'"}},
      "strokeDash": {"field": "k", "type": "nominal", "scale": {"domain": ["P","M","G","H"], "range": [[1,0],[4,2,1,2],[3,1.5,1,1.5,1,1.5],[3,2]]},
       "legend": {"title": null, "legendX": 93, "legendY": 86, "padding": 0, "rowPadding": 0, "symbolSize": 100, "symbolStrokeWidth": 1.5, "labelExpr": "datum.label == 'P' ? 'Py8+CUETP8M1' : datum.label == 'M' ? 'Py8+Monash' : datum.label == 'G' ? 'MadGraph' : 'Herwig++'"}}}},
    {"data": {"name": "m3"}, "mark": {"type": "circle", "size": 26, "color": "black", "opacity": 1, "clip": true},
     "encoding": {
      "x": {"field": "c", "type": "quantitative", "axis": {"orient": "top", "values": [-6,-5,-4,-3,-2,-1], "labels": false, "tickSize": -8, "title": "CMS", "titleAnchor": "start", "titleAlign": "left", "titleBaseline": "alphabetic", "titlePadding": 4, "titleFontSize": 16}},
      "y": {"field": "d", "type": "quantitative", "axis": {"orient": "right", "values": [0.001, 0.01, 0.1], "labels": false, "tickSize": -9, "title": null}}}},
    {"data": {"values": [{}]}, "mark": {"type": "point", "size": 0, "filled": false, "color": "black", "strokeWidth": 1.3, "opacity": 1},
     "encoding": {
      "x": {"datum": -3.65, "type": "quantitative", "axis": null},
      "y": {"datum": 0.00156, "type": "quantitative", "axis": null},
      "shape": {"datum": "Data", "type": "nominal", "scale": {"domain": ["Data"], "range": ["M-1,0H1M0,-1V1M0.32,0A0.32,0.32,0,1,1,-0.32,0A0.32,0.32,0,1,1,0.32,0M0.12,0A0.12,0.12,0,1,1,-0.12,0A0.12,0.12,0,1,1,0.12,0"]},
       "legend": {"title": null, "legendX": 93, "legendY": 76, "padding": 0, "rowPadding": 0, "symbolSize": 100, "symbolStrokeColor": "black", "symbolStrokeWidth": 1.3, "symbolOpacity": 1}}}},
    {"data": {"values": [{}]}, "mark": {"type": "text", "align": "right", "baseline": "alphabetic", "fontSize": 10},
     "encoding": {
      "x": {"datum": -3.65, "type": "quantitative", "axis": {"orient": "top", "values": [-6.8,-6.6,-6.4,-6.2,-5.8,-5.6,-5.4,-5.2,-4.8,-4.6,-4.4,-4.2,-3.8,-3.6,-3.4,-3.2,-2.8,-2.6,-2.4,-2.2,-1.8,-1.6,-1.4,-1.2,-0.8,-0.6,-0.4], "labels": false, "tickSize": -4, "title": "2.2 fb⁻¹ (13 TeV)", "titleAnchor": "end", "titleAlign": "right", "titleBaseline": "alphabetic", "titlePadding": 4, "titleFontSize": 15}},
      "y": {"datum": 0.00156, "type": "quantitative", "axis": {"orient": "right", "values": [0.002,0.003,0.004,0.005,0.006,0.007,0.008,0.009,0.02,0.03,0.04,0.05,0.06,0.07,0.08,0.09,0.2,0.3,0.4], "labels": false, "tickSize": -4, "title": null}},
      "text": {"value": "73 < H"}}},
    {"data": {"values": [{}]}, "mark": {"type": "text", "align": "left", "baseline": "alphabetic", "fontSize": 7, "dx": 0.5, "dy": 3},
     "encoding": {"x": {"datum": -3.65, "type": "quantitative", "axis": null}, "y": {"datum": 0.00156, "type": "quantitative", "axis": null}, "text": {"value": "T,2"}}},
    {"data": {"values": [{}]}, "mark": {"type": "text", "align": "left", "baseline": "alphabetic", "fontSize": 10, "dx": 14},
     "encoding": {"x": {"datum": -3.65, "type": "quantitative", "axis": null}, "y": {"datum": 0.00156, "type": "quantitative", "axis": null}, "text": {"value": "< 93  GeV"}}}
   ]},
  {"width": 255, "height": 86,
   "resolve": {"axis": {"x": "independent", "y": "independent"}},
   "layer": [
    {"data": {"name": "r3"}, "mark": {"type": "rect", "fill": "#ffff00", "clip": true},
     "encoding": {
      "x": {"field": "lo", "type": "quantitative", "scale": {"domain": [-6.91, -0.26], "nice": false, "zero": false}, "axis": {"orient": "bottom", "values": [-6,-5,-4,-3,-2,-1], "tickSize": -8, "labelPadding": 9, "labelExpr": "replace(format(datum.value, '.1~f'), '−', '-')", "title": "ln(ρₜₒₜ)", "titleFontSize": 18, "titlePadding": 2}},
      "x2": {"field": "hi"},
      "y": {"field": "tlo", "type": "quantitative", "scale": {"domain": [0.71, 1.5], "nice": false, "zero": false}, "axis": {"orient": "left", "values": [0.8, 1, 1.2, 1.4], "tickSize": -9, "labelPadding": 36, "labelExpr": "format(datum.value, '.1~f')", "title": "MC / Data", "titleX": -45, "titleBaseline": "middle", "titleFontSize": 15}},
      "y2": {"field": "thi"}}},
    {"data": {"name": "r3"}, "mark": {"type": "rect", "fill": "#b8b49c", "clip": true},
     "encoding": {
      "x": {"field": "lo", "type": "quantitative", "axis": {"orient": "bottom", "values": [-6.8,-6.6,-6.4,-6.2,-5.8,-5.6,-5.4,-5.2,-4.8,-4.6,-4.4,-4.2,-3.8,-3.6,-3.4,-3.2,-2.8,-2.6,-2.4,-2.2,-1.8,-1.6,-1.4,-1.2,-0.8,-0.6,-0.4], "labels": false, "tickSize": -4, "title": null}},
      "x2": {"field": "hi"},
      "y": {"field": "slo", "type": "quantitative", "axis": {"orient": "left", "values": [0.75,0.85,0.9,0.95,1.05,1.1,1.15,1.25,1.3,1.35,1.45], "labels": false, "tickSize": -4, "title": null}},
      "y2": {"field": "shi"}}},
    {"data": {"values": [{}]}, "mark": {"type": "rule", "color": "#6e6e6e", "strokeWidth": 2},
     "encoding": {"y": {"datum": 1, "type": "quantitative", "axis": null}}},
    {"data": {"name": "r3"}, "transform": [{"fold": ["P","M","G","H"], "as": ["k","v"]}],
     "mark": {"type": "line", "interpolate": "step-after", "clip": true, "strokeWidth": 1.3},
     "encoding": {
      "x": {"field": "lo", "type": "quantitative", "axis": {"orient": "top", "values": [-6,-5,-4,-3,-2,-1], "labels": false, "tickSize": -8, "title": null}},
      "y": {"field": "v", "type": "quantitative", "axis": {"orient": "right", "values": [0.8, 1, 1.2, 1.4], "labels": false, "tickSize": -9, "title": null}},
      "color": {"field": "k", "type": "nominal", "scale": {"domain": ["P","M","G","H"], "range": ["#ff0000","#0000ff","#ff00ff","#1f9a1f"]}, "legend": null},
      "strokeDash": {"field": "k", "type": "nominal", "scale": {"domain": ["P","M","G","H"], "range": [[1,0],[4,2,1,2],[3,1.5,1,1.5,1,1.5],[3,2]]}, "legend": null}}},
    {"data": {"values": [{}]}, "mark": {"type": "text", "text": ""},
     "encoding": {
      "x": {"datum": -3, "type": "quantitative", "axis": {"orient": "top", "values": [-6.8,-6.6,-6.4,-6.2,-5.8,-5.6,-5.4,-5.2,-4.8,-4.6,-4.4,-4.2,-3.8,-3.6,-3.4,-3.2,-2.8,-2.6,-2.4,-2.2,-1.8,-1.6,-1.4,-1.2,-0.8,-0.6,-0.4], "labels": false, "tickSize": -4, "title": null}},
      "y": {"datum": 1, "type": "quantitative", "axis": {"orient": "right", "values": [0.75,0.85,0.9,0.95,1.05,1.1,1.15,1.25,1.3,1.35,1.45], "labels": false, "tickSize": -4, "title": null}}}}
   ]}
 ], "spacing": 0, "bounds": "flush", "resolve": {"scale": {"color": "independent", "strokeDash": "independent", "fill": "independent", "shape": "independent"}, "legend": {"color": "independent", "strokeDash": "independent", "fill": "independent", "shape": "independent"}}},
 {"vconcat": [
  {"width": 252, "height": 191,
   "resolve": {"axis": {"x": "independent", "y": "independent"}},
   "layer": [
    {"data": {"name": "m4"}, "mark": {"type": "rect", "clip": true},
     "encoding": {
      "x": {"field": "lo", "type": "quantitative", "scale": {"domain": [-6.0, -1.405], "nice": false, "zero": false}, "axis": {"orient": "bottom", "values": [-6,-5.5,-5,-4.5,-4,-3.5,-3,-2.5,-2,-1.5], "labels": false, "tickSize": -8, "title": null}},
      "x2": {"field": "hi"},
      "y": {"field": "dlo", "type": "quantitative", "scale": {"type": "log", "domain": [0.0108, 0.503], "nice": false}, "axis": {"orient": "left", "values": [0.1], "tickSize": -9, "labelPadding": 19, "labelExpr": "datum.value < 0.005 ? '10⁻³' : datum.value < 0.05 ? '10⁻²' : '10⁻¹'", "title": "1/N dN/dln(ρᵀₜₒₜ)", "titleX": -48, "titleY": 97, "titleBaseline": "middle"}},
      "y2": {"field": "dhi"},
      "fill": {"datum": "T", "type": "nominal", "scale": {"domain": ["T","S"], "range": ["#ffff00","#b8b49c"]},
       "legend": {"title": null, "legendX": 94, "legendY": 128, "padding": 0, "rowPadding": 0, "symbolSize": 81, "symbolType": "square", "symbolStrokeColor": "black", "symbolStrokeWidth": 0.7, "labelExpr": "datum.label == 'T' ? 'Total uncertainty' : 'Statistical uncertainty'"}}}},
    {"data": {"name": "m4"}, "transform": [{"fold": ["P","M","G","H"], "as": ["k","v"]}],
     "mark": {"type": "line", "interpolate": "step-after", "clip": true, "strokeWidth": 1.6},
     "encoding": {
      "x": {"field": "lo", "type": "quantitative", "axis": {"orient": "bottom", "values": [-5.9,-5.8,-5.7,-5.6,-5.4,-5.3,-5.2,-5.1,-4.9,-4.8,-4.7,-4.6,-4.4,-4.3,-4.2,-4.1,-3.9,-3.8,-3.7,-3.6,-3.4,-3.3,-3.2,-3.1,-2.9,-2.8,-2.7,-2.6,-2.4,-2.3,-2.2,-2.1,-1.9,-1.8,-1.7,-1.6], "labels": false, "tickSize": -4, "title": null}},
      "y": {"field": "v", "type": "quantitative", "axis": {"orient": "left", "values": [0.02,0.03,0.04,0.05,0.06,0.07,0.08,0.09,0.2,0.3,0.4,0.5], "labels": false, "tickSize": -4, "title": null}},
      "color": {"field": "k", "type": "nominal", "scale": {"domain": ["P","M","G","H"], "range": ["#ff0000","#0000ff","#ff00ff","#1f9a1f"]},
       "legend": {"title": null, "legendX": 94, "legendY": 85, "padding": 0, "rowPadding": 0, "symbolSize": 100, "symbolStrokeWidth": 1.5, "labelExpr": "datum.label == 'P' ? 'Py8+CUETP8M1' : datum.label == 'M' ? 'Py8+Monash' : datum.label == 'G' ? 'MadGraph' : 'Herwig++'"}},
      "strokeDash": {"field": "k", "type": "nominal", "scale": {"domain": ["P","M","G","H"], "range": [[1,0],[4,2,1,2],[3,1.5,1,1.5,1,1.5],[3,2]]},
       "legend": {"title": null, "legendX": 94, "legendY": 85, "padding": 0, "rowPadding": 0, "symbolSize": 100, "symbolStrokeWidth": 1.5, "labelExpr": "datum.label == 'P' ? 'Py8+CUETP8M1' : datum.label == 'M' ? 'Py8+Monash' : datum.label == 'G' ? 'MadGraph' : 'Herwig++'"}}}},
    {"data": {"name": "m4"}, "mark": {"type": "circle", "size": 26, "color": "black", "opacity": 1, "clip": true},
     "encoding": {
      "x": {"field": "c", "type": "quantitative", "axis": {"orient": "top", "values": [-6,-5.5,-5,-4.5,-4,-3.5,-3,-2.5,-2,-1.5], "labels": false, "tickSize": -8, "title": "CMS", "titleAnchor": "start", "titleAlign": "left", "titleBaseline": "alphabetic", "titlePadding": 4, "titleFontSize": 16}},
      "y": {"field": "d", "type": "quantitative", "axis": {"orient": "right", "values": [0.1], "labels": false, "tickSize": -9, "title": null}}}},
    {"data": {"values": [{}]}, "mark": {"type": "point", "size": 0, "filled": false, "color": "black", "strokeWidth": 1.3, "opacity": 1},
     "encoding": {
      "x": {"datum": -3.75, "type": "quantitative", "axis": null},
      "y": {"datum": 0.0155, "type": "quantitative", "axis": null},
      "shape": {"datum": "Data", "type": "nominal", "scale": {"domain": ["Data"], "range": ["M-1,0H1M0,-1V1M0.32,0A0.32,0.32,0,1,1,-0.32,0A0.32,0.32,0,1,1,0.32,0M0.12,0A0.12,0.12,0,1,1,-0.12,0A0.12,0.12,0,1,1,0.12,0"]},
       "legend": {"title": null, "legendX": 94, "legendY": 75, "padding": 0, "rowPadding": 0, "symbolSize": 100, "symbolStrokeColor": "black", "symbolStrokeWidth": 1.3, "symbolOpacity": 1}}}},
    {"data": {"values": [{}]}, "mark": {"type": "text", "align": "right", "baseline": "alphabetic", "fontSize": 10},
     "encoding": {
      "x": {"datum": -3.75, "type": "quantitative", "axis": {"orient": "top", "values": [-5.9,-5.8,-5.7,-5.6,-5.4,-5.3,-5.2,-5.1,-4.9,-4.8,-4.7,-4.6,-4.4,-4.3,-4.2,-4.1,-3.9,-3.8,-3.7,-3.6,-3.4,-3.3,-3.2,-3.1,-2.9,-2.8,-2.7,-2.6,-2.4,-2.3,-2.2,-2.1,-1.9,-1.8,-1.7,-1.6], "labels": false, "tickSize": -4, "title": "2.2 fb⁻¹ (13 TeV)", "titleAnchor": "end", "titleAlign": "right", "titleBaseline": "alphabetic", "titlePadding": 4, "titleFontSize": 15}},
      "y": {"datum": 0.0155, "type": "quantitative", "axis": {"orient": "right", "values": [0.02,0.03,0.04,0.05,0.06,0.07,0.08,0.09,0.2,0.3,0.4,0.5], "labels": false, "tickSize": -4, "title": null}},
      "text": {"value": "73 < H"}}},
    {"data": {"values": [{}]}, "mark": {"type": "text", "align": "left", "baseline": "alphabetic", "fontSize": 7, "dx": 0.5, "dy": 3},
     "encoding": {"x": {"datum": -3.75, "type": "quantitative", "axis": null}, "y": {"datum": 0.0155, "type": "quantitative", "axis": null}, "text": {"value": "T,2"}}},
    {"data": {"values": [{}]}, "mark": {"type": "text", "align": "left", "baseline": "alphabetic", "fontSize": 10, "dx": 14},
     "encoding": {"x": {"datum": -3.75, "type": "quantitative", "axis": null}, "y": {"datum": 0.0155, "type": "quantitative", "axis": null}, "text": {"value": "< 93  GeV"}}}
   ]},
  {"width": 252, "height": 86,
   "resolve": {"axis": {"x": "independent", "y": "independent"}},
   "layer": [
    {"data": {"name": "r4"}, "mark": {"type": "rect", "fill": "#ffff00", "clip": true},
     "encoding": {
      "x": {"field": "lo", "type": "quantitative", "scale": {"domain": [-6.0, -1.405], "nice": false, "zero": false}, "axis": {"orient": "bottom", "values": [-6,-5.5,-5,-4.5,-4,-3.5,-3,-2.5,-2,-1.5], "tickSize": -8, "labelPadding": 9, "labelExpr": "replace(format(datum.value, '.1~f'), '−', '-')", "title": "ln(ρᵀₜₒₜ)", "titleFontSize": 18, "titlePadding": 2}},
      "x2": {"field": "hi"},
      "y": {"field": "tlo", "type": "quantitative", "scale": {"domain": [0.71, 1.5], "nice": false, "zero": false}, "axis": {"orient": "left", "values": [0.8, 1, 1.2, 1.4], "tickSize": -9, "labelPadding": 19, "labelExpr": "format(datum.value, '.1~f')", "title": "MC / Data", "titleX": -48, "titleBaseline": "middle", "titleFontSize": 15}},
      "y2": {"field": "thi"}}},
    {"data": {"name": "r4"}, "mark": {"type": "rect", "fill": "#b8b49c", "clip": true},
     "encoding": {
      "x": {"field": "lo", "type": "quantitative", "axis": {"orient": "bottom", "values": [-5.9,-5.8,-5.7,-5.6,-5.4,-5.3,-5.2,-5.1,-4.9,-4.8,-4.7,-4.6,-4.4,-4.3,-4.2,-4.1,-3.9,-3.8,-3.7,-3.6,-3.4,-3.3,-3.2,-3.1,-2.9,-2.8,-2.7,-2.6,-2.4,-2.3,-2.2,-2.1,-1.9,-1.8,-1.7,-1.6], "labels": false, "tickSize": -4, "title": null}},
      "x2": {"field": "hi"},
      "y": {"field": "slo", "type": "quantitative", "axis": {"orient": "left", "values": [0.75,0.85,0.9,0.95,1.05,1.1,1.15,1.25,1.3,1.35,1.45], "labels": false, "tickSize": -4, "title": null}},
      "y2": {"field": "shi"}}},
    {"data": {"values": [{}]}, "mark": {"type": "rule", "color": "#6e6e6e", "strokeWidth": 2},
     "encoding": {"y": {"datum": 1, "type": "quantitative", "axis": null}}},
    {"data": {"name": "r4"}, "transform": [{"fold": ["P","M","G","H"], "as": ["k","v"]}],
     "mark": {"type": "line", "interpolate": "step-after", "clip": true, "strokeWidth": 1.3},
     "encoding": {
      "x": {"field": "lo", "type": "quantitative", "axis": {"orient": "top", "values": [-6,-5.5,-5,-4.5,-4,-3.5,-3,-2.5,-2,-1.5], "labels": false, "tickSize": -8, "title": null}},
      "y": {"field": "v", "type": "quantitative", "axis": {"orient": "right", "values": [0.8, 1, 1.2, 1.4], "labels": false, "tickSize": -9, "title": null}},
      "color": {"field": "k", "type": "nominal", "scale": {"domain": ["P","M","G","H"], "range": ["#ff0000","#0000ff","#ff00ff","#1f9a1f"]}, "legend": null},
      "strokeDash": {"field": "k", "type": "nominal", "scale": {"domain": ["P","M","G","H"], "range": [[1,0],[4,2,1,2],[3,1.5,1,1.5,1,1.5],[3,2]]}, "legend": null}}},
    {"data": {"values": [{}]}, "mark": {"type": "text", "text": ""},
     "encoding": {
      "x": {"datum": -3, "type": "quantitative", "axis": {"orient": "top", "values": [-5.9,-5.8,-5.7,-5.6,-5.4,-5.3,-5.2,-5.1,-4.9,-4.8,-4.7,-4.6,-4.4,-4.3,-4.2,-4.1,-3.9,-3.8,-3.7,-3.6,-3.4,-3.3,-3.2,-3.1,-2.9,-2.8,-2.7,-2.6,-2.4,-2.3,-2.2,-2.1,-1.9,-1.8,-1.7,-1.6], "labels": false, "tickSize": -4, "title": null}},
      "y": {"datum": 1, "type": "quantitative", "axis": {"orient": "right", "values": [0.75,0.85,0.9,0.95,1.05,1.1,1.15,1.25,1.3,1.35,1.45], "labels": false, "tickSize": -4, "title": null}}}}
   ]}
 ], "spacing": 0, "bounds": "flush", "resolve": {"scale": {"color": "independent", "strokeDash": "independent", "fill": "independent", "shape": "independent"}, "legend": {"color": "independent", "strokeDash": "independent", "fill": "independent", "shape": "independent"}}}
], "spacing": 7, "resolve": {"scale": {"color": "independent", "strokeDash": "independent", "fill": "independent", "shape": "independent"}, "legend": {"color": "independent", "strokeDash": "independent", "fill": "independent", "shape": "independent"}}}
]
}
